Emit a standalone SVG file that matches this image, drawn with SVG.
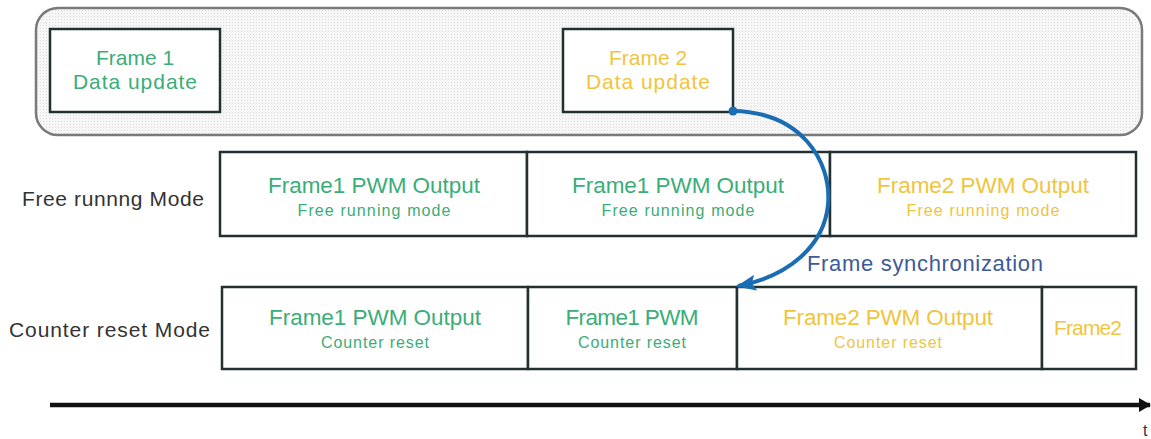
<svg xmlns="http://www.w3.org/2000/svg" width="1151" height="439" viewBox="0 0 1151 439">
  <defs>
    <pattern id="dots" width="3" height="3" patternUnits="userSpaceOnUse">
      <rect width="3" height="3" fill="#f6f6f6"/>
      <rect x="1" y="1" width="1" height="1" fill="#dedede"/>
    </pattern>
    <marker id="blueHead" viewBox="0 0 20 16" refX="18" refY="8" markerWidth="20" markerHeight="16" markerUnits="userSpaceOnUse" orient="auto">
      <path d="M0,0 L20,8 L0,16 L4,8 Z" fill="#1a6cb3"/>
    </marker>
    <marker id="blackHead" viewBox="0 0 12 14" refX="11" refY="7" markerWidth="12" markerHeight="14" markerUnits="userSpaceOnUse" orient="auto">
      <path d="M0,0 L12,7 L0,14 Z" fill="#111"/>
    </marker>
  </defs>
  <style>
    .box { fill: #ffffff; stroke: #223030; stroke-width: 2.5; }
    .t { font-family: "Liberation Sans", Arial, sans-serif; text-anchor: middle; }
    .g { fill: #3aad78; }
    .y { fill: #f0c43e; }
    .big { font-size: 22.5px; }
    .small { font-size: 16px; }
    .frm { font-size: 21px; }
    .lbl { font-family: "Liberation Sans", Arial, sans-serif; font-size: 21px; fill: #333333; }
  </style>
  <rect width="1151" height="439" fill="#ffffff"/>

  <g id="container">
    <rect x="36" y="8" width="1106" height="127" rx="22" ry="22" fill="url(#dots)" stroke="#7a7a7a" stroke-width="2.5"/>
  </g>

  <g id="frame1-update">
    <rect class="box" x="50" y="29" width="170" height="83"/>
    <text class="t g frm" x="135" y="65">Frame 1</text>
    <text class="t g frm" x="135" y="89" textLength="124">Data update</text>
  </g>
  <g id="frame2-update">
    <rect class="box" x="563" y="29" width="170" height="83"/>
    <text class="t y frm" x="648" y="65">Frame 2</text>
    <text class="t y frm" x="648" y="89" textLength="124">Data update</text>
  </g>

  <g id="label-free">
    <text class="lbl" x="22" y="206" textLength="182">Free runnng Mode</text>
  </g>
  <g id="label-counter">
    <text class="lbl" x="9" y="337" textLength="201">Counter reset Mode</text>
  </g>

  <g id="free-1">
    <rect class="box" x="220" y="152" width="307" height="84"/>
    <text class="t g big" x="374" y="193" textLength="212">Frame1 PWM Output</text>
    <text class="t g small" x="374" y="216" textLength="153">Free running mode</text>
  </g>
  <g id="free-2">
    <rect class="box" x="527" y="152" width="303" height="84"/>
    <text class="t g big" x="678" y="193" textLength="212">Frame1 PWM Output</text>
    <text class="t g small" x="678" y="216" textLength="153">Free running mode</text>
  </g>
  <g id="free-3">
    <rect class="box" x="830" y="152" width="306" height="84"/>
    <text class="t y big" x="983" y="193" textLength="212">Frame2 PWM Output</text>
    <text class="t y small" x="983" y="216" textLength="153">Free running mode</text>
  </g>

  <g id="counter-1">
    <rect class="box" x="222" y="287" width="306" height="82"/>
    <text class="t g big" x="375" y="325" textLength="212">Frame1 PWM Output</text>
    <text class="t g small" x="375" y="348" textLength="108">Counter reset</text>
  </g>
  <g id="counter-2">
    <rect class="box" x="528" y="287" width="209" height="82"/>
    <text class="t g big" x="632" y="325" textLength="133">Frame1 PWM</text>
    <text class="t g small" x="632" y="348" textLength="108">Counter reset</text>
  </g>
  <g id="counter-3">
    <rect class="box" x="737" y="287" width="305" height="82"/>
    <text class="t y big" x="888" y="325" textLength="210">Frame2 PWM Output</text>
    <text class="t y small" x="888" y="348" textLength="108">Counter reset</text>
  </g>
  <g id="counter-4">
    <rect class="box" x="1042" y="287" width="94" height="82"/>
    <text class="t y frm" x="1088" y="335" textLength="68">Frame2</text>
  </g>

  <g id="connectors">
    <path d="M733,111 C800,112 832,160 828,205 C824,245 790,276 738,286" fill="none" stroke="#1a6cb3" stroke-width="4" marker-end="url(#blueHead)"/>
    <circle cx="733" cy="111" r="4.5" fill="#1a6cb3"/>
    <text x="807" y="271" font-family="Liberation Sans, Arial, sans-serif" font-size="22px" fill="#3d5a99" textLength="236">Frame synchronization</text>
    <line x1="50" y1="405" x2="1150" y2="405" stroke="#111" stroke-width="4.5" marker-end="url(#blackHead)"/>
  </g>

  <g id="axis-label">
    <text x="1143" y="436" font-family="Liberation Sans, Arial, sans-serif" font-size="16px" fill="#333">t</text>
  </g>
</svg>
